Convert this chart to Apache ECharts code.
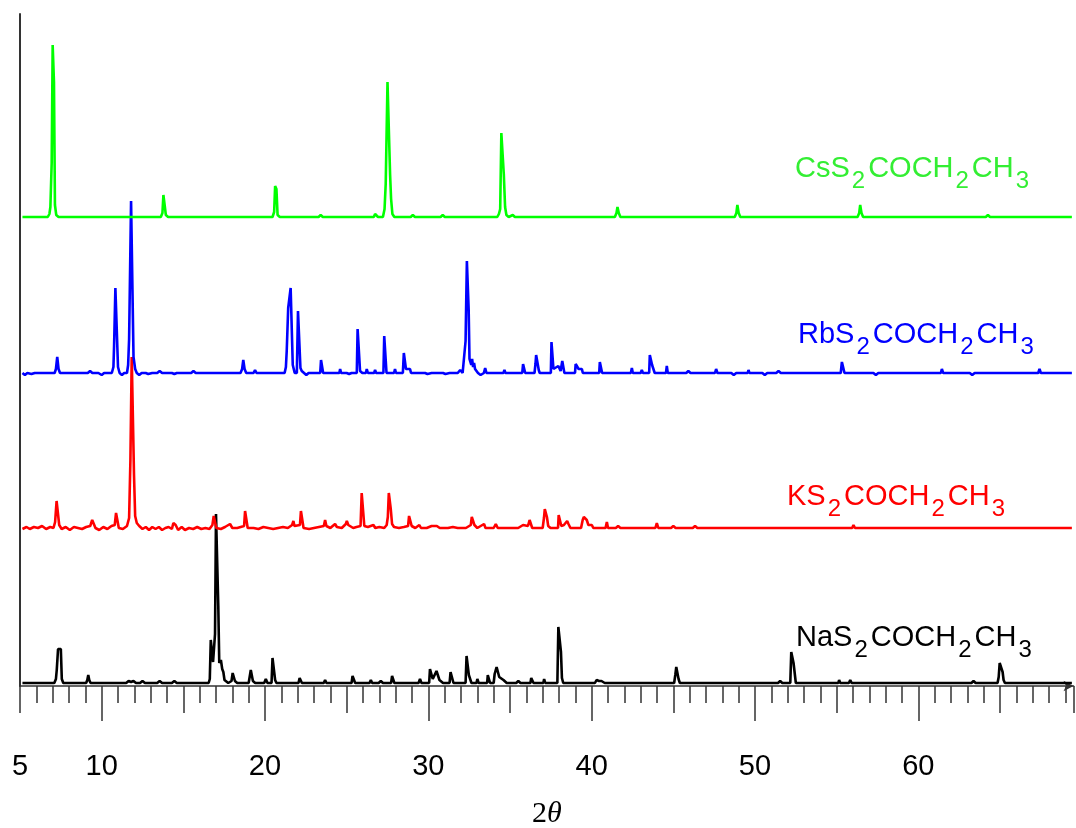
<!DOCTYPE html>
<html>
<head>
<meta charset="utf-8">
<title>XRD patterns of alkali ethyl xanthates</title>
<script src="https://cdn.jsdelivr.net/npm/echarts@6/dist/echarts.min.js"></script>
<style>
  html, body { margin: 0; padding: 0; background: #ffffff; }
  #chart { width: 1076px; height: 828px; }
</style>
</head>
<body>
<div id="chart"></div>
<script>
// Powder patterns, [2θ (deg), intensity above the pattern's own baseline (a.u.)]
const csPattern = [
  [5.15,0],[6.70,0],[6.80,3],[6.86,10],[6.94,54],[7.00,172],[7.08,135],[7.14,12],[7.22,2],[7.36,0],
  [13.62,0],[13.72,4],[13.78,22],[13.86,20],[13.93,2],[14.07,0],
  [20.46,0],[20.56,5],[20.62,31],[20.70,28],[20.77,2],[20.91,0],
  [23.28,0],[23.41,2],[23.54,0],
  [26.66,0],[26.74,3],[26.84,3],[26.92,0],
  [27.22,0],[27.32,8],[27.39,33],[27.50,135],[27.58,134],[27.66,42],[27.72,18],[27.80,3],[27.92,0],
  [28.92,0],[29.05,2],[29.18,0],
  [30.75,0],[30.88,2],[31.01,0],
  [34.22,0],[34.32,3],[34.40,8],[34.47,84],[34.55,84],[34.62,43],[34.70,10],[34.78,2],[34.92,0],
  [35.04,0],[35.17,2],[35.30,0],
  [41.42,0],[41.52,4],[41.58,10],[41.66,4],[41.76,0],
  [48.76,0],[48.86,4],[48.92,12],[49.00,4],[49.10,0],
  [56.28,0],[56.38,4],[56.44,12],[56.52,4],[56.62,0],
  [64.13,0],[64.26,2],[64.39,0],
  [69.40,0]
];

const rbPattern = [
  [5.15,0],[5.30,-2],[5.45,0],[5.70,-1],[5.90,0],
  [7.12,0],[7.20,4],[7.28,16],[7.36,4],[7.45,0],
  [9.15,0],[9.29,2],[9.43,0],[9.80,0],[10.00,-2],[10.15,0],
  [10.62,0],[10.72,6],[10.76,27],[10.84,85],[10.94,83],[11.00,6],[11.10,0],[11.24,-2],[11.38,0],
  [11.55,0],[11.62,8],[11.68,34],[11.80,172],[11.88,172],[11.95,16],[12.05,4],[12.15,0],[12.30,-2],[12.45,0],
  [12.70,0],[12.85,-1],[13.10,0],[13.40,0],[13.55,2],[13.70,0],[14.30,0],[14.45,-1],[14.60,0],[15.48,0],[15.62,2],[15.76,0],
  [18.50,0],[18.60,4],[18.67,13],[18.75,4],[18.85,0],
  [19.30,0],[19.39,3],[19.48,0],
  [21.20,0],[21.28,6],[21.33,22],[21.42,65],[21.50,65],[21.57,85],[21.64,85],[21.70,8],[21.76,4],[21.82,0],
  [21.95,0],[22.02,62],[22.10,62],[22.17,5],[22.25,2],[22.39,0],[22.53,-2],[22.67,0],
  [23.38,0],[23.43,13],[23.50,13],[23.56,0],
  [24.55,0],[24.60,4],[24.66,0],[25.00,0],[25.15,-1],[25.30,0],
  [25.62,0],[25.67,44],[25.75,44],[25.82,2],[25.96,0],
  [26.18,0],[26.23,4],[26.30,0],[26.68,0],[26.74,3],[26.80,0],
  [27.25,0],[27.30,37],[27.38,37],[27.44,0],
  [27.90,0],[27.96,4],[28.02,0],
  [28.44,0],[28.50,20],[28.57,20],[28.63,4],[28.88,4],[28.94,0],
  [29.80,0],[29.95,-1],[30.20,0],[30.90,0],[31.05,-1],[31.30,0],[31.80,0],[31.95,3],[32.10,0],
  [32.22,0],[32.28,32],[32.36,112],[32.42,112],[32.47,63],[32.52,14],[32.58,15],[32.63,8],[32.68,14],[32.74,6],
  [32.80,10],[32.86,4],[32.94,6],[33.04,0],
  [33.20,-2],[33.40,0],[33.48,5],[33.56,0],
  [34.60,0],[34.66,3],[34.72,0],
  [35.75,0],[35.80,9],[35.87,9],[35.93,0],
  [36.50,0],[36.56,9],[36.60,18],[36.70,18],[36.76,3],[36.82,0],
  [37.50,0],[37.54,31],[37.60,31],[37.66,4],[37.96,7],[38.10,2],[38.20,12],[38.28,12],[38.33,0],
  [38.98,0],[39.02,9],[39.10,9],[39.20,4],[39.40,4],[39.46,0],
  [40.46,0],[40.50,11],[40.58,11],[40.64,0],
  [42.40,0],[42.46,5],[42.52,0],[43.00,0],[43.07,3],[43.14,0],
  [43.52,0],[43.56,18],[43.64,18],[43.70,8],[43.80,8],[43.86,0],
  [44.55,0],[44.60,7],[44.66,0],
  [45.79,0],[45.92,2],[46.05,0],
  [47.55,0],[47.62,4],[47.70,0],
  [48.55,0],[48.70,-2],[48.85,0],
  [49.55,0],[49.60,3],[49.66,0],
  [50.45,0],[50.60,-2],[50.75,0],
  [51.30,0],[51.44,2],[51.58,0],
  [55.25,0],[55.32,11],[55.40,11],[55.48,0],
  [57.25,0],[57.40,-2],[57.55,0],
  [61.38,0],[61.44,4],[61.52,0],
  [63.15,0],[63.30,-2],[63.45,0],
  [67.34,0],[67.42,4],[67.50,0],
  [69.40,0]
];

const kPattern = [
  [5.15,-1],[5.40,1],[5.60,-1],[5.85,1],[6.10,0],[6.35,2],[6.60,-1],[6.85,1],[7.05,0],
  [7.15,6],[7.24,27],[7.32,27],[7.40,3],[7.55,-1],[7.80,1],[8.05,-2],[8.30,1],[8.55,0],[8.80,-1],[9.05,1],[9.30,2],
  [9.42,8],[9.52,8],[9.62,0],[9.85,-2],[10.10,1],[10.35,-1],[10.60,2],[10.80,3],[10.88,15],[10.96,15],[11.05,0],
  [11.30,-1],[11.55,2],[11.68,10],[11.76,68],[11.84,171],[11.90,171],[11.98,53],[12.05,12],[12.15,5],[12.30,2],
  [12.50,-1],[12.70,1],[12.90,-2],[13.10,1],[13.30,-1],[13.50,1],[13.70,-2],[13.90,0],[14.10,1],[14.30,-1],
  [14.39,5],[14.53,3],[14.68,-2],[14.90,1],[15.10,-2],[15.35,0],[15.60,-1],[15.85,1],[16.10,-1],[16.35,0],[16.60,-1],
  [16.78,3],[16.86,12],[16.94,11],[17.02,0],[17.30,-1],[17.55,1],[17.86,4],[18.00,0],[18.30,0],
  [18.72,2],[18.78,17],[18.86,17],[18.94,0],[19.30,0],[19.60,-1],[19.90,1],[20.20,0],[20.50,-1],[20.80,0],
  [21.10,1],[21.40,0],[21.66,3],[21.74,7],[21.80,2],[22.14,3],[22.20,17],[22.28,17],[22.36,0],[22.70,-1],
  [23.00,0],[23.30,1],[23.60,2],[23.68,8],[23.76,2],[24.00,0],[24.29,4],[24.40,1],[24.70,0],[24.95,4],[25.01,7],
  [25.10,3],[25.40,0],[25.60,1],[25.85,2],[25.92,35],[26.00,35],[26.08,2],[26.30,1],[26.64,3],[26.75,0],
  [27.00,1],[27.30,0],[27.45,3],[27.52,11],[27.58,35],[27.64,35],[27.70,19],[27.78,4],[27.90,1],[28.20,0],
  [28.50,1],[28.76,2],[28.82,12],[28.90,12],[28.98,2],[29.20,0],[29.45,3],[29.55,0],[29.90,0],[30.20,2],
  [30.52,2],[30.70,0],[31.20,0],[31.50,1],[31.80,0],[32.30,0],[32.60,3],[32.66,11],[32.74,11],[32.82,3],[33.00,0],
  [33.41,4],[33.50,0],[34.00,0],[34.13,4],[34.25,0],[35.50,0],[35.80,3],[35.92,4],[36.10,2],[36.20,8],[36.28,8],
  [36.36,0],[37.00,0],[37.08,10],[37.13,19],[37.20,19],[37.26,11],[37.34,2],[37.48,0],
  [37.94,0],[37.98,13],[38.06,13],[38.14,2],[38.30,3],[38.50,7],[38.58,4],[38.70,0],
  [39.35,0],[39.45,8],[39.52,11],[39.60,11],[39.70,8],[39.80,3],[40.01,3],[40.10,0],
  [40.85,0],[40.93,6],[41.00,0],[41.48,0],[41.62,2],[41.76,0],[43.90,0],[43.99,5],[44.08,0],
  [44.86,0],[45.00,2],[45.14,0],[46.19,0],[46.33,2],[46.47,0],[55.95,0],[56.03,3],[56.12,0],
  [69.40,0]
];

const naPattern = [
  [5.15,0],
  [7.10,0],[7.20,4],[7.25,13],[7.33,34],[7.50,34],[7.56,4],[7.65,0],
  [9.05,0],[9.12,3],[9.18,8],[9.24,3],[9.32,0],
  [11.50,0],[11.65,2],[11.80,1],[11.95,2],[12.10,0],
  [12.35,0],[12.50,2],[12.65,0],[13.40,0],[13.55,2],[13.70,0],[14.30,0],[14.45,2],[14.60,0],
  [16.55,0],[16.62,4],[16.68,43],[16.76,43],[16.82,21],[16.88,20],[16.94,49],[17.00,169],[17.08,169],
  [17.14,77],[17.20,20],[17.30,23],[17.38,14],[17.45,11],[17.52,3],[17.75,0],
  [17.95,2],[18.02,10],[18.10,10],[18.16,2],[18.30,0],
  [19.00,0],[19.06,6],[19.13,13],[19.20,13],[19.26,2],[19.40,0],
  [19.95,0],[20.05,4],[20.15,0],[20.40,0],[20.46,25],[20.56,25],[20.62,3],[20.70,0],
  [22.05,0],[22.12,5],[22.20,5],[22.26,0],
  [23.60,0],[23.68,3],[23.76,0],
  [25.30,0],[25.36,7],[25.46,7],[25.52,0],[26.40,0],[26.48,3],[26.56,0],[26.96,0],[27.09,2],[27.22,0],
  [27.72,0],[27.78,7],[27.86,7],[27.92,0],[29.40,0],[29.49,4],[29.58,0],
  [30.05,0],[30.10,14],[30.20,14],[30.27,4],[30.35,3],[30.50,12],[30.60,12],[30.68,3],[30.90,0],
  [31.30,0],[31.36,11],[31.48,11],[31.54,0],
  [32.28,0],[32.34,27],[32.42,27],[32.48,8],[32.58,8],[32.64,0],[32.95,0],[33.00,4],[33.08,0],
  [33.60,0],[33.64,8],[33.72,8],[33.78,0],
  [34.00,0],[34.06,9],[34.18,16],[34.28,16],[34.34,6],[34.45,4],[34.60,3],[34.80,0],
  [35.38,0],[35.51,2],[35.64,0],[36.25,0],[36.30,5],[36.38,5],[36.44,0],[37.04,0],[37.09,4],[37.16,0],
  [37.90,0],[37.96,56],[38.06,56],[38.12,31],[38.18,5],[38.26,0],
  [40.20,0],[40.30,3],[40.45,2],[40.60,2],[40.80,0],
  [45.05,0],[45.12,8],[45.18,16],[45.26,16],[45.32,4],[45.40,0],
  [51.41,0],[51.54,2],[51.67,0],
  [52.16,0],[52.22,31],[52.30,31],[52.36,20],[52.44,20],[52.50,0],
  [55.10,0],[55.15,3],[55.22,0],[55.75,0],[55.83,3],[55.92,0],
  [63.25,0],[63.38,2],[63.51,0],
  [64.85,0],[64.92,6],[64.98,20],[65.08,20],[65.16,11],[65.22,3],[65.30,0],
  [69.40,0]
];

// Stacking order (bottom to top) and vertical offsets of each pattern's baseline
const seriesNames = ['NaS2COCH2CH3', 'KS2COCH2CH3', 'RbS2COCH2CH3', 'CsS2COCH2CH3'];
const seriesColors = ['#000000', '#ff0000', '#0000ff', '#00ff00'];
const baselineOffsets = [3, 158, 313, 469];
const patterns = [naPattern, kPattern, rbPattern, csPattern];

// Axis ticks
const majorTickValues = [10, 20, 30, 40, 50, 60];
const labelValues = [5, 10, 20, 30, 40, 50, 60];

const X_MIN = 5, X_MAX = 69.5;

const chart = echarts.init(document.getElementById('chart'), null, { renderer: 'canvas' });

const tickStyle = { color: '#333333', width: 1.5 };

const series = patterns.map((p, i) => ({
  name: seriesNames[i],
  type: 'line',
  xAxisIndex: 0,
  data: p.map(([t, v]) => [t, v + baselineOffsets[i]]),
  showSymbol: false,
  symbol: 'none',
  lineStyle: { color: seriesColors[i], width: 2.6 },
  itemStyle: { color: seriesColors[i] },
  z: 3 + i,
  animation: false
}));

const sansFont = '"Liberation Sans", Arial, Helvetica, sans-serif';
const serifFont = '"Liberation Serif", "Times New Roman", serif';

function formulaLabel(parts, color, left, top) {
  // parts: [main text, subscript] pieces
  let text = '';
  parts.forEach(([m, s]) => {
    text += '{m|' + m + '}';
    if (s) text += '{s|' + s + '}';
  });
  return {
    type: 'text',
    left: left,
    top: top,
    z: 20,
    style: {
      text: text,
      fill: color,
      rich: {
        m: { fontSize: 29, lineHeight: 29, fontFamily: sansFont, fill: color, verticalAlign: 'top' },
        s: { fontSize: 24, lineHeight: 24, fontFamily: sansFont, fill: color, verticalAlign: 'top', padding: [15, 3, 0, 2] }
      }
    }
  };
}

const option = {
  backgroundColor: '#ffffff',
  animation: false,
  grid: { left: 20, right: 2.5, top: 14, bottom: 142, containLabel: false, outerBoundsMode: 'none' },
  xAxis: [
    {
      type: 'value', min: X_MIN, max: X_MAX, interval: 1, position: 'bottom',
      axisLine: { show: true, onZero: false, symbol: ['none', 'arrow'], symbolSize: [8, 10],
                  lineStyle: { color: '#333333', width: 1.5 } },
      axisTick: { show: true, inside: false, length: 17, lineStyle: tickStyle },
      axisLabel: { show: false },
      splitLine: { show: false }
    },
    {
      type: 'value', min: X_MIN, max: X_MAX, interval: 5, position: 'bottom',
      axisLine: { show: false, onZero: false },
      axisTick: { show: true, inside: false, length: 27, lineStyle: tickStyle },
      axisLabel: {
        show: true, margin: 66, fontSize: 29, fontFamily: sansFont, color: '#000000',
        formatter: v => (labelValues.indexOf(v) >= 0 ? String(v) : '')
      },
      splitLine: { show: false },
      name: '{n|2}{i|θ}',
      nameLocation: 'middle',
      nameGap: 113,
      nameTextStyle: {
        rich: {
          n: { fontSize: 30, fontFamily: serifFont, color: '#000000' },
          i: { fontSize: 30, fontFamily: serifFont, fontStyle: 'italic', color: '#000000' }
        }
      }
    },
    {
      type: 'value', min: X_MIN, max: X_MAX, position: 'bottom',
      axisLine: { show: false, onZero: false },
      axisTick: { show: true, inside: false, length: 35, lineStyle: tickStyle, customValues: majorTickValues },
      axisLabel: { show: false, customValues: majorTickValues },
      splitLine: { show: false }
    }
  ],
  yAxis: {
    type: 'value', min: 0, max: 672,
    axisLine: { show: true, onZero: false, lineStyle: { color: '#333333', width: 2 } },
    axisTick: { show: false },
    axisLabel: { show: false },
    splitLine: { show: false }
  },
  series: series,
  graphic: [
    formulaLabel([['CsS', '2'], ['COCH', '2'], ['CH', '3']], '#33ee33', 795, 154),
    formulaLabel([['RbS', '2'], ['COCH', '2'], ['CH', '3']], '#0000ff', 798, 320),
    formulaLabel([['KS', '2'], ['COCH', '2'], ['CH', '3']], '#ff0000', 787, 482),
    formulaLabel([['NaS', '2'], ['COCH', '2'], ['CH', '3']], '#000000', 796, 623.5)
  ]
};

chart.setOption(option);
</script>
</body>
</html>
